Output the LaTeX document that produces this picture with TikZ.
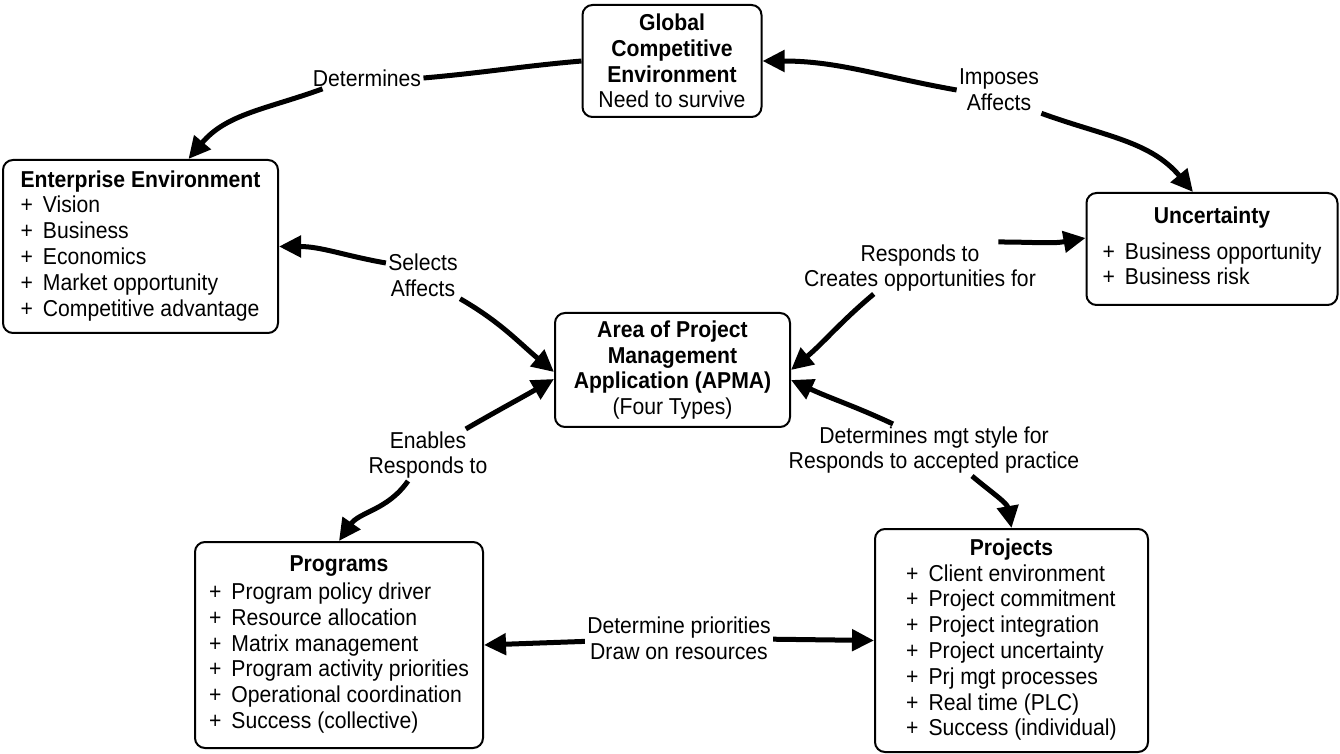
\documentclass[tikz,border=0pt]{standalone}
\usepackage{fontspec}
\setmainfont{Liberation Sans}[FakeStretch=0.92]
\usetikzlibrary{arrows.meta}

\newcommand{\boxfont}{\fontsize{11.5pt}{12.9pt}\selectfont}

\tikzset{
  box/.style={draw, line width=1pt, rounded corners=5pt, inner sep=2pt, font=\boxfont},
  lbl/.style={inner sep=1pt, align=center, font=\boxfont},
  link/.style={line width=2.5pt},
  linkarrow/.style={link, -{Triangle[length=11pt,width=10.5pt]}},
}

\begin{document}
\begin{tikzpicture}[x=0.5pt,y=-0.5pt]
\useasboundingbox (0,0) rectangle (1340,754);

% boxes
\node[box, minimum width=89.5pt, minimum height=56pt, align=center] (glob) at (672,61)
  {\textbf{Global}\\\textbf{Competitive}\\\textbf{Environment}\\Need to survive};

\node[box, minimum width=137.5pt, minimum height=86.5pt] (ent) at (140.5,246.5) {%
  \begin{tabular}{@{}l@{\hspace{5pt}}l@{}}
  \multicolumn{2}{@{}c@{}}{\textbf{Enterprise Environment}}\\
  + & Vision\\
  + & Business\\
  + & Economics\\
  + & Market opportunity\\
  + & Competitive advantage
  \end{tabular}};

\node[box, minimum width=125.5pt, minimum height=56pt] (unc) at (1212,249) {%
  \begin{tabular}{@{}l@{\hspace{5pt}}l@{}}
  \multicolumn{2}{@{}c@{}}{\textbf{Uncertainty}}\\[5pt]
  + & Business opportunity\\
  + & Business risk
  \end{tabular}};

\node[box, minimum width=117.5pt, minimum height=57pt, align=center] (apma) at (672.5,370)
  {\textbf{Area of Project}\\\textbf{Management}\\\textbf{Application (APMA)}\\(Four Types)};

\node[box, minimum width=144pt, minimum height=103pt] (prog) at (339,645) {%
  \begin{tabular}{@{}l@{\hspace{5pt}}l@{}}
  \multicolumn{2}{@{}c@{}}{\textbf{Programs}}\\[1pt]
  + & Program policy driver\\
  + & Resource allocation\\
  + & Matrix management\\
  + & Program activity priorities\\
  + & Operational coordination\\
  + & Success (collective)
  \end{tabular}};

\node[box, minimum width=136.5pt, minimum height=111.5pt] (proj) at (1011.5,640.5) {%
  \begin{tabular}{@{}l@{\hspace{5pt}}l@{}}
  \multicolumn{2}{@{}c@{}}{\textbf{Projects}}\\
  + & Client environment\\
  + & Project commitment\\
  + & Project integration\\
  + & Project uncertainty\\
  + & Prj mgt processes\\
  + & Real time (PLC)\\
  + & Success (individual)
  \end{tabular}};

% connector labels
\node[lbl] (det) at (367,78) {Determines};
\node[lbl] (imp) at (999,90) {Imposes\\Affects};
\node[lbl] (sel) at (423,275) {Selects\\Affects};
\node[lbl] (resp) at (920,268) {Responds to\\Creates opportunities for};
\node[lbl] (enab) at (428,455) {Enables\\Responds to};
\node[lbl] (dms) at (934,450) {Determines mgt style for\\Responds to accepted practice};
\node[lbl] (dpri) at (679,638) {Determine priorities\\Draw on resources};

% connectors
\draw[link] (glob.west) to[out=185,in=5] (det.east);
\draw[linkarrow] ([xshift=6pt]det.south west) to[out=200,in=50] ([xshift=24pt]ent.north);

\draw[linkarrow] (imp.west) to[out=170,in=0] (glob.east);
\draw[linkarrow] (imp.south east) to[out=-20,in=130] ([xshift=-9.5pt]unc.north);

\draw[linkarrow] ([yshift=6pt]sel.west) to[out=170,in=0] (ent.east);
\draw[linkarrow] (sel.south east) to[out=-30,in=140] ([yshift=-1pt]apma.west);

\draw[linkarrow] ([xshift=-20pt]resp.north east) to[out=0,in=190] ([yshift=5.5pt]unc.west);
\draw[linkarrow] ([xshift=36pt]resp.south west) to[out=220,in=40] (apma.east);

\draw[linkarrow] ([xshift=-12pt]enab.north east) to[out=30,in=210] ([yshift=-4.5pt]apma.west);
\draw[linkarrow] ([xshift=-10pt]enab.south) to[out=235,in=55] (prog.north);

\draw[linkarrow] ([xshift=-20.5pt]dms.north) to[out=155,in=-25] ([yshift=-5pt]apma.east);
\draw[linkarrow] ([xshift=19pt]dms.south) to[out=-40,in=100] (proj.north);

\draw[linkarrow] (dpri) -- (prog.east);
\draw[linkarrow] (dpri) -- (proj.west);
\end{tikzpicture}
\end{document}
